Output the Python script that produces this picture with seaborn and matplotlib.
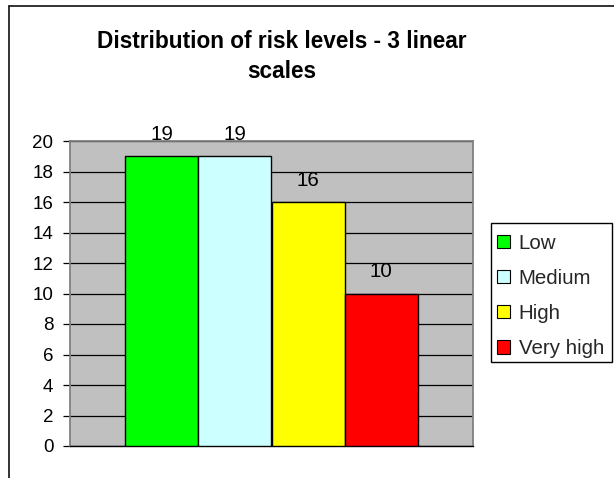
import matplotlib
matplotlib.use("Agg")
import matplotlib.pyplot as plt
from matplotlib.patches import Patch, Rectangle
from matplotlib.lines import Line2D
import pandas as pd
import seaborn as sns

# Risk level counts
levels = ["Low", "Medium", "High", "Very high"]
counts = [19, 19, 16, 10]
colors = ["#00FF00", "#CCFFFF", "#FFFF00", "#FF0000"]
y_ticks = [0, 2, 4, 6, 8, 10, 12, 14, 16, 18, 20]
title = "Distribution of risk levels - 3 linear\nscales"

sns.set_theme(style="white")
plt.rcParams["font.family"] = ["Liberation Sans", "DejaVu Sans"]

W, H = 614, 478
fig = plt.figure(figsize=(W / 100, H / 100), dpi=100)
fig.patch.set_facecolor("white")

ax = fig.add_axes([70 / W, 1 - 446 / H, (473 - 70) / W, (446 - 141) / H])
ax.set_facecolor("#C0C0C0")

df = pd.DataFrame({"level": levels, "count": counts})
palette = dict(zip(levels, colors))
sns.barplot(data=df, x="level", y="count", hue="level", order=levels,
            hue_order=levels, palette=palette, width=1.0, saturation=1,
            edgecolor="black", linewidth=1.0, legend=False, ax=ax, zorder=3)

ax.set_xlim(-1.25, len(levels) - 1 + 1.25)
ax.set_ylim(0, 20)
ax.set_yticks(y_ticks)
ax.set_xticks([])
ax.set_xlabel("")
ax.set_ylabel("")
ax.yaxis.grid(True, color="black", linewidth=0.9, zorder=1)
ax.set_axisbelow(True)
ax.tick_params(axis="y", which="major", left=True, length=5, width=0.9,
               color="black", pad=7, labelsize=13.5, labelcolor="black")
for side in ["top", "right", "left"]:
    ax.spines[side].set_color("#808080")
    ax.spines[side].set_linewidth(1.3)
ax.spines["bottom"].set_color("black")
ax.spines["bottom"].set_linewidth(1.0)

for cont in ax.containers:
    ax.bar_label(cont, labels=[f"{v:.0f}" for v in cont.datavalues],
                 padding=9, fontsize=14.8, color="black")

# Title
fig.text(282 / W, 1 - 30 / H, title, ha="center", va="top",
         multialignment="center", fontsize=16.3, fontweight="bold",
         color="black", linespacing=1.4)

# Legend frame and entries
fig.patches.append(Rectangle((491 / W, 1 - 362 / H), (612 - 491) / W, (362 - 223) / H,
                             transform=fig.transFigure, facecolor="white",
                             edgecolor="black", linewidth=1.0, zorder=1))
handles = [Patch(facecolor=c, edgecolor="black", linewidth=0.8) for c in colors]
leg = fig.legend(handles, levels, loc="upper left",
                 bbox_to_anchor=(497 / W, 1 - 234 / H), frameon=False,
                 fontsize=14.8, handlelength=0.62, handleheight=0.62,
                 handletextpad=0.44, labelspacing=0.78, borderpad=0,
                 borderaxespad=0)
leg.set_zorder(5)

# Chart area border (top and left edges)
fig.add_artist(Line2D([9 / W, 1.0], [1 - 6 / H, 1 - 6 / H],
                      transform=fig.transFigure, color="#222222", linewidth=1.3))
fig.add_artist(Line2D([9 / W, 9 / W], [0, 1 - 6 / H],
                      transform=fig.transFigure, color="#222222", linewidth=1.3))

fig.savefig("out.png", dpi=100)
